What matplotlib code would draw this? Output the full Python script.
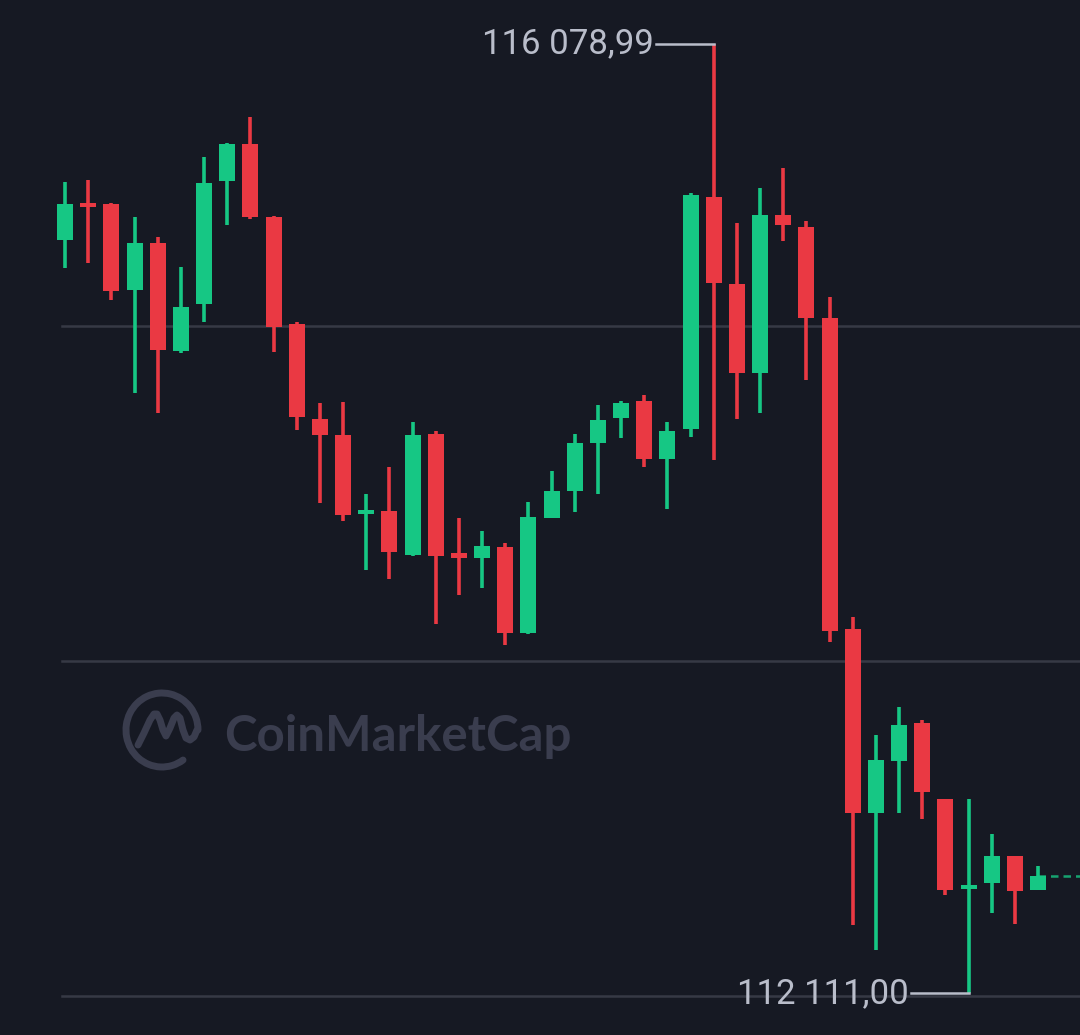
import matplotlib
matplotlib.use("Agg")
import matplotlib.pyplot as plt
from matplotlib.patches import Arc

BG = "#161923"
GREEN = "#16c784"
RED = "#ea3943"
GRID = "#363945"
LABEL = "#b9bdca"
WATERMARK = "#3a3d4e"

# OHLC
opens = [115259, 115410, 115410, 115050, 115247, 114796, 114992, 115506, 115661, 115356,
         114908, 114511, 114445, 114119, 114127, 113943, 114449, 113951, 113930, 113976,
         113617, 114098, 114210, 114411, 114516, 114587, 114344, 114470, 115439, 115076,
         114704, 115364, 115314, 114933, 113634, 112865, 113082, 113241, 112923, 112547,
         112572, 112685, 112543]
highs = [115502, 115510, 115414, 115356, 115272, 115147, 115606, 115665, 115773, 115360,
         114917, 114578, 114582, 114198, 114311, 114499, 114461, 114098, 114043, 113993,
         114164, 114294, 114449, 114570, 114587, 114612, 114499, 115456, 116078.99, 115330,
         115477, 115560, 115339, 115021, 113684, 113191, 113308, 113253, 112923, 112923,
         112777, 112685, 112643]
lows = [115142, 115163, 115009, 114620, 114536, 114787, 114917, 115322, 115347, 114791,
        114465, 114160, 114085, 113880, 113843, 113939, 113655, 113776, 113805, 113567,
        113613, 114098, 114123, 114198, 114432, 114311, 114135, 114436, 114340, 114511,
        114536, 115255, 114674, 113579, 112397, 112292, 112865, 112840, 112522, 112111.00,
        112447, 112401, 112543]
closes = [115410, 115401, 115046, 115247, 114800, 114979, 115498, 115661, 115356, 114896,
          114520, 114445, 114110, 114127, 113956, 114445, 113939, 113930, 113981, 113617,
          114102, 114210, 114411, 114507, 114578, 114344, 114461, 115447, 115080, 114704,
          115364, 115322, 114933, 113625, 112865, 113086, 113232, 112952, 112543, 112564,
          112685, 112539, 112602]
grid_levels = [114900, 113500, 112100]


def fmt_price(v):
    return f"{v:,.2f}".replace(",", " ").replace(".", ",")


fig = plt.figure(figsize=(10.8, 10.35), dpi=100, facecolor=BG)

# watermark layer (pixel coords)
wm = fig.add_axes([0, 0, 1, 1], zorder=0)
wm.set_xlim(0, 1080)
wm.set_ylim(1035, 0)
wm.axis("off")
wm.set_facecolor(BG)
wm.add_patch(Arc((162, 730), 72, 74, theta1=55, theta2=360, lw=5, color=WATERMARK,
                 capstyle="round"))
wm.plot([138, 144, 150, 154, 157, 160, 163, 166, 170, 174, 177, 180, 183, 186, 190, 194, 197],
        [745, 733, 720, 714, 714, 720, 730, 736, 728, 718, 715, 718, 730, 738, 740, 737, 730],
        color=WATERMARK, lw=5, solid_capstyle="round", solid_joinstyle="round")
wm.text(224, 751, "CoinMarketCap", color=WATERMARK, fontsize=35.5, fontweight="bold",
        family="Lato", ha="left", va="baseline")

# price chart
ax = fig.add_axes([0, 0, 1, 1], zorder=1)
ax.patch.set_alpha(0)
px = 23.17
ax.set_xlim(-65 / px, (1080 - 65) / px)
ax.set_ylim(111937.0, 116262.4)
ax.axis("off")

for lvl in grid_levels:
    ax.axhline(lvl, xmin=62 / 1080, xmax=1, color=GRID, lw=1.8, zorder=1)

min_body = 14
idx = list(range(len(opens)))
for i, o, h, l, c in zip(idx, opens, highs, lows, closes):
    col = GREEN if c >= o else RED
    ax.vlines(i, l, h, color=col, lw=2.6, zorder=3)
    lo, hi = min(o, c), max(o, c)
    height = max(hi - lo, min_body)
    mid = (lo + hi) / 2
    ax.bar(i, height, bottom=mid - height / 2, width=0.69, color=col, zorder=4,
           linewidth=0)

# last price dashed line
last = len(closes) - 1
ax.plot([last, (1080 - 65) / px], [closes[-1], closes[-1]], color=GREEN, lw=1.8,
        ls=(0, (3, 2)), alpha=0.8, zorder=2)

# high / low markers
hi_i = max(idx, key=lambda k: highs[k])
lo_i = min(idx, key=lambda k: lows[k])
ax.plot([hi_i - 2.5, hi_i], [highs[hi_i], highs[hi_i]], color=LABEL, lw=1.8, zorder=5)
ax.text(hi_i - 2.6, highs[hi_i], fmt_price(highs[hi_i]), color=LABEL, fontsize=25,
        family="Roboto", ha="right", va="center")
ax.plot([lo_i - 2.5, lo_i], [lows[lo_i], lows[lo_i]], color=LABEL, lw=1.8, zorder=5)
ax.text(lo_i - 2.6, lows[lo_i], fmt_price(lows[lo_i]), color=LABEL, fontsize=25,
        family="Roboto", ha="right", va="center")

fig.savefig("out.png", dpi=100, facecolor=BG)
